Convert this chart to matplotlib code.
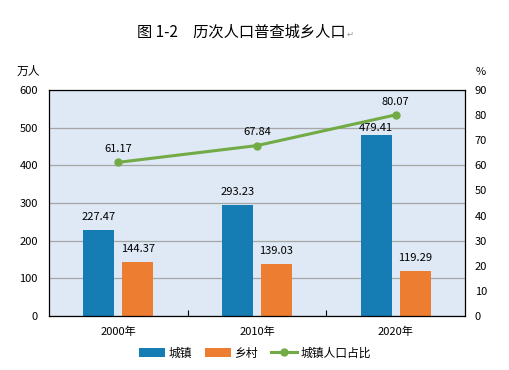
import matplotlib.pyplot as plt
from matplotlib.ticker import MultipleLocator

plt.rcParams['font.family'] = ['Noto Sans CJK SC', 'DejaVu Sans']

# 数据
years = ['2000年', '2010年', '2020年']
urban = [227.47, 293.23, 479.41]
rural = [144.37, 139.03, 119.29]
urban_ratio = [61.17, 67.84, 80.07]

blue = '#167cb4'
orange = '#ed7d31'
green = '#72ab45'

fig = plt.figure(figsize=(5.1, 3.7), dpi=100)
ax = fig.add_axes([0.096, 0.146, 0.816, 0.611])
ax.set_facecolor('#dee9f5')

x = list(range(len(years)))
w = 0.224
off = 0.14
b1 = ax.bar([i - off for i in x], urban, w, color=blue, label='城镇', zorder=2)
b2 = ax.bar([i + off for i in x], rural, w, color=orange, label='乡村', zorder=2)

ax.set_xlim(-0.5, 2.5)
ax.set_ylim(0, 600)
ax.yaxis.set_major_locator(MultipleLocator(100))
ax.grid(axis='y', color='#a6a6a6', linewidth=0.9, zorder=1)
ax.set_axisbelow(True)
ax.set_xticks(x)
ax.set_xticklabels(years)
ax.set_xticks([0.5, 1.5], minor=True)
ax.tick_params(axis='x', which='major', length=0, pad=8, labelsize=8)
ax.tick_params(axis='x', which='minor', direction='in', length=4, width=0.8)
ax.tick_params(axis='y', length=0, pad=8, labelsize=8)
for s in ax.spines.values():
    s.set_color('black')
    s.set_linewidth(0.9)

# 柱子标签（2020年城镇标签偏低一点，避开折线）
bar_pad = [6, 6, 1.5]
for i, v in enumerate(urban):
    ax.annotate(f'{v:.2f}', (i - off, v), xytext=(0, bar_pad[i]), textcoords='offset points',
                ha='center', va='bottom', fontsize=8)
for i, v in enumerate(rural):
    ax.annotate(f'{v:.2f}', (i + off, v), xytext=(0, 5.5), textcoords='offset points',
                ha='center', va='bottom', fontsize=8)

ax2 = ax.twinx()
ax2.set_ylim(0, 90)
ax2.yaxis.set_major_locator(MultipleLocator(10))
ax2.tick_params(axis='y', length=0, pad=7, labelsize=8)
for s in ax2.spines.values():
    s.set_visible(False)
l1, = ax2.plot(x, urban_ratio, color=green, linewidth=2.2, marker='o', markersize=5,
               label='城镇人口占比', zorder=3)
for i, v in enumerate(urban_ratio):
    ax2.annotate(f'{v:.2f}', (i, v), xytext=(0, 6), textcoords='offset points',
                 ha='center', va='bottom', fontsize=8)

fig.text(137 / 510, 1 - 32 / 370, '图 1-2\u3000历次人口普查城乡人口', fontsize=11,
         ha='left', va='center')
fig.text(347 / 510, 1 - 34 / 370, '\u21b5', fontsize=6, color='#999999',
         ha='left', va='center', family=['DejaVu Sans'])
fig.text(28 / 510, 1 - 71 / 370, '万人', fontsize=8.5, ha='center', va='center')
fig.text(481 / 510, 1 - 72 / 370, '%', fontsize=8, ha='center', va='center')

fig.legend(handles=[b1, b2, l1], loc='center', bbox_to_anchor=(255 / 510, 1 - 353 / 370),
           ncol=3, frameon=False, fontsize=8.5, handlelength=2.2, handletextpad=0.3,
           columnspacing=1.1)

plt.savefig('out.png', dpi=100)
